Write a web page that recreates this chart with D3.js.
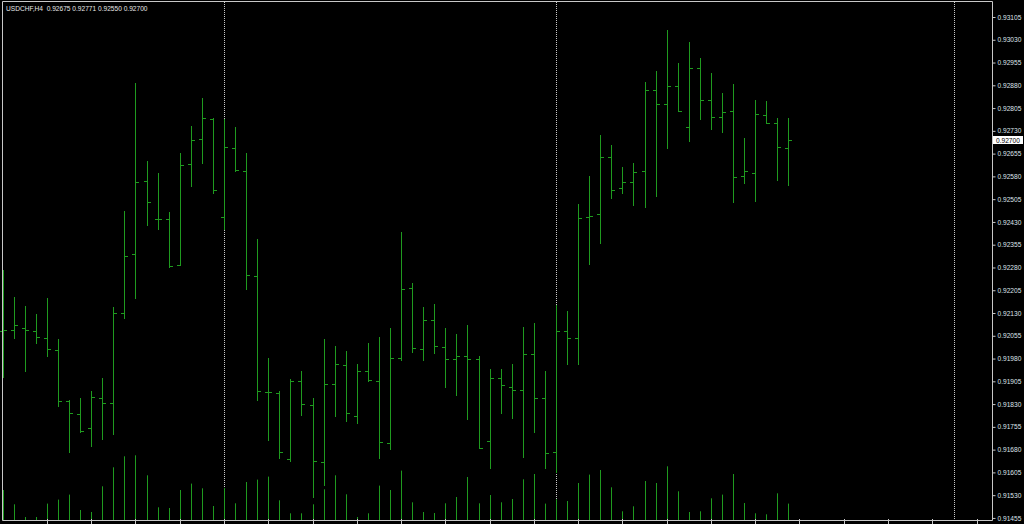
<!DOCTYPE html>
<html>
<head>
<meta charset="utf-8">
<script src="https://cdn.jsdelivr.net/npm/d3@7"></script>
<style>
html,body{margin:0;padding:0;background:#000;}
svg{display:block;}
</style>
</head>
<body>
<svg id="chart" width="1024" height="524"></svg>
<script>
// ---- data ----
const symbolTitle = "USDCHF,H4";
const lastQuote = [0.92675, 0.92771, 0.92550, 0.92700];
const opens  = [0.92071,0.92075,0.92081,0.92072,0.92049,0.92007,0.91840,0.91797,0.91751,0.91850,
                0.91833,0.92131,0.92324,0.92566,0.92441,0.92441,0.92288,0.92622,0.92702,0.92770,
                0.92447,0.92675,0.92599,0.92253,0.91869,0.91866,0.91649,0.91907,0.91826,0.91638,
                0.91897,0.91960,0.91792,0.91940,0.91907,0.91703,0.91983,0.92212,0.92012,0.92106,
                0.92019,0.91978,0.91987,0.91978,0.91709,0.91917,0.91887,0.91877,0.91994,0.91850,
                0.91673,0.92072,0.92048,0.92447,0.92456,0.92645,0.92543,0.92563,0.92597,0.92865,
                0.92819,0.92879,0.92743,0.92938,0.92832,0.92775,0.92796,0.92581,0.92592,0.92781,
                0.92757,0.92675];
const highs  = [0.92272,0.92182,0.92154,0.92126,0.92178,0.92044,0.91843,0.91850,0.91872,0.91915,
                0.92150,0.92466,0.92887,0.92631,0.92590,0.92462,0.92656,0.92745,0.92837,0.92772,
                0.92769,0.92742,0.92657,0.92375,0.91982,0.91874,0.91912,0.91940,0.91849,0.92044,
                0.92021,0.92005,0.91962,0.92031,0.92050,0.92080,0.92396,0.92229,0.92149,0.92159,
                0.92082,0.92061,0.92091,0.91987,0.91945,0.91945,0.91961,0.92083,0.92096,0.91940,
                0.92156,0.92137,0.92489,0.92582,0.92716,0.92682,0.92612,0.92625,0.92892,0.92927,
                0.93062,0.92952,0.93022,0.92970,0.92920,0.92854,0.92883,0.92707,0.92833,0.92828,
                0.92771,0.92771];
const lows   = [0.91920,0.92049,0.91940,0.92030,0.91989,0.91824,0.91671,0.91737,0.91692,0.91714,
                0.91731,0.92115,0.92178,0.92420,0.92406,0.92281,0.92287,0.92549,0.92625,0.92524,
                0.92406,0.92598,0.92208,0.91843,0.91712,0.91651,0.91644,0.91795,0.91524,0.91564,
                0.91792,0.91774,0.91769,0.91906,0.91653,0.91682,0.91974,0.92002,0.91974,0.91997,
                0.91887,0.91860,0.91780,0.91684,0.91619,0.91800,0.91783,0.91655,0.91737,0.91619,
                0.91607,0.91961,0.91962,0.92290,0.92360,0.92508,0.92524,0.92486,0.92478,0.92516,
                0.92672,0.92795,0.92698,0.92768,0.92736,0.92725,0.92495,0.92558,0.92500,0.92755,
                0.92568,0.92550];
const closes = [0.92074,0.92090,0.92073,0.92052,0.92010,0.91841,0.91800,0.91742,0.91852,0.91833,
                0.92129,0.92319,0.92563,0.92497,0.92441,0.92285,0.92618,0.92700,0.92772,0.92536,
                0.92677,0.92601,0.92256,0.91873,0.91869,0.91673,0.91907,0.91830,0.91644,0.91895,
                0.91962,0.91800,0.91940,0.91909,0.91704,0.91981,0.92210,0.92015,0.92106,0.92022,
                0.91978,0.91987,0.91978,0.91685,0.91917,0.91892,0.91877,0.91996,0.91850,0.91668,
                0.92072,0.92047,0.92442,0.92451,0.92645,0.92535,0.92563,0.92594,0.92865,0.92817,
                0.92879,0.92795,0.92938,0.92832,0.92777,0.92793,0.92579,0.92599,0.92785,0.92757,
                0.92677,0.92700];
const volumes = [3000,1570,300,300,1640,2040,2540,1000,800,3370,
                 5270,6370,6470,4470,1270,1200,3000,3640,3170,1400,
                 3200,1670,3800,4040,4340,1970,670,670,1570,3070,
                 4470,2570,300,670,3440,3000,4940,1770,800,700,
                 1670,2300,4300,1670,2500,1770,2100,4070,4600,1640,
                 2070,1900,3700,4540,5000,3270,870,1370,3900,3700,
                 5370,2870,800,870,2170,2540,4600,1700,670,570,
                 2670,1640];
const separators = [20, 50, 86];
const priceTicks = d3.range(0, 23).map(i => +(0.91455 + i * 0.00075).toFixed(5));

// ---- layout ----
const W = 1024, H = 524;
const plot = {left: 2, top: 2, right: 992, bottom: 520};
const svg = d3.select("#chart");
const barColor = "#1f9a1f";
const fg = "#c8c8c8";

const x = d3.scaleLinear().domain([0, 90]).range([2.7, 2.7 + 11.066 * 90]);
const y = d3.scaleLinear().domain([0.91455, 0.93105]).range([17 + 22 * 22.77, 17]);
const yv = d3.scaleLinear().domain([0, 10000]).range([plot.bottom, plot.bottom - 100]);
const px = i => Math.round(x(i)) + 0.5;

svg.append("rect").attr("width", W).attr("height", H).attr("fill", "#000");

// separators
svg.append("g").selectAll("line").data(separators).join("line")
  .attr("x1", d => px(d)).attr("x2", d => px(d))
  .attr("y1", plot.top).attr("y2", plot.bottom)
  .attr("stroke", fg).attr("stroke-width", 1).attr("stroke-dasharray", "1,1");

// volumes
svg.append("g").selectAll("line").data(volumes).join("line")
  .attr("x1", (d, i) => px(i)).attr("x2", (d, i) => px(i))
  .attr("y1", plot.bottom).attr("y2", d => yv(d))
  .attr("stroke", barColor).attr("stroke-width", 1);

// OHLC bars
const bars = opens.map((o, i) => ({i, o, h: highs[i], l: lows[i], c: closes[i]}));
const g = svg.append("g").attr("stroke", barColor).attr("stroke-width", 1);
g.selectAll("line.hl").data(bars).join("line").attr("class", "hl")
  .attr("x1", d => px(d.i)).attr("x2", d => px(d.i))
  .attr("y1", d => Math.round(y(d.h))).attr("y2", d => Math.round(y(d.l)) + 1);
g.selectAll("line.o").data(bars).join("line").attr("class", "o")
  .attr("x1", d => px(d.i) - 3.5).attr("x2", d => px(d.i))
  .attr("y1", d => Math.round(y(d.o)) + 0.5).attr("y2", d => Math.round(y(d.o)) + 0.5);
g.selectAll("line.c").data(bars).join("line").attr("class", "c")
  .attr("x1", d => px(d.i)).attr("x2", d => px(d.i) + 3.5)
  .attr("y1", d => Math.round(y(d.c)) + 0.5).attr("y2", d => Math.round(y(d.c)) + 0.5);

// frame
svg.append("path")
  .attr("d", `M${plot.left + 0.5},${plot.bottom + 0.5} V${plot.top - 0.5} H${plot.right + 0.5} V${plot.bottom + 0.5} H${plot.left + 0.5}`)
  .attr("fill", "none").attr("stroke", fg).attr("stroke-width", 1);

// right axis
const yAxis = d3.axisRight(y).tickValues(priceTicks).tickFormat(d3.format(".5f")).tickSize(3).tickPadding(2);
const ya = svg.append("g").attr("transform", `translate(${plot.right + 0.5},0)`).call(yAxis);
ya.select(".domain").remove();
ya.selectAll(".tick line").attr("stroke", fg);
ya.selectAll(".tick text").attr("fill", "#dde3ea")
  .style("font-family", "'Liberation Sans', Arial, sans-serif").style("font-size", "6.6px");

// bottom ticks
const xTicks = d3.range(4, 89, 4);
svg.append("g").selectAll("line").data(xTicks).join("line")
  .attr("x1", d => px(d)).attr("x2", d => px(d))
  .attr("y1", plot.bottom - 1).attr("y2", H)
  .attr("stroke", fg);

// current price label
const lp = lastQuote[3];
svg.append("rect").attr("x", plot.right + 1).attr("y", Math.round(y(lp)) - 4)
  .attr("width", 30).attr("height", 8).attr("fill", "#fff");
svg.append("text").attr("x", plot.right + 4).attr("y", Math.round(y(lp)) + 2.5)
  .attr("fill", "#000").style("font-family", "'Liberation Sans', Arial, sans-serif")
  .style("font-size", "6.6px").text(d3.format(".5f")(lp));

// title
svg.append("text").attr("x", 6).attr("y", 11)
  .attr("fill", "#e6e6e6").style("font-family", "'Liberation Sans', Arial, sans-serif")
  .style("font-size", "6.6px").attr("xml:space", "preserve")
  .text(symbolTitle + "  " + lastQuote.map(d3.format(".5f")).join(" "));
</script>
</body>
</html>
